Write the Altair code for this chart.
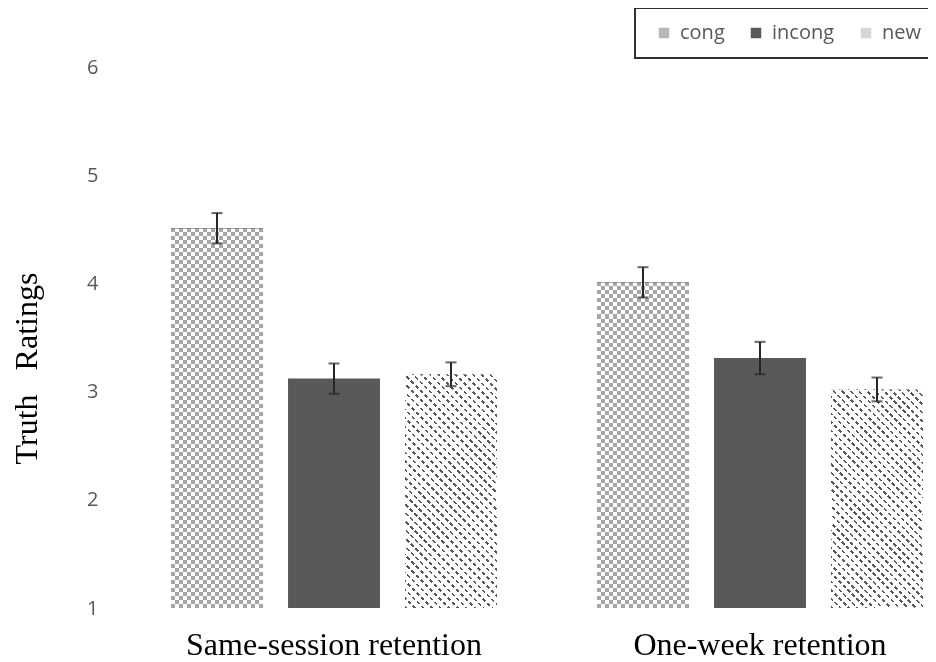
import altair as alt
import pandas as pd

# ---- data ----
retention = ["Same-session retention", "One-week retention"]
conditions = ["cong", "incong", "new"]
mean_same = [4.51, 3.12, 3.16]
mean_week = [4.01, 3.31, 3.02]
err_same = [0.14, 0.14, 0.11]
err_week = [0.14, 0.15, 0.11]
y_ticks = [1, 2, 3, 4, 5, 6]

rows = []
for r, means, errs in zip(retention, [mean_same, mean_week], [err_same, err_week]):
    for c, m, e in zip(conditions, means, errs):
        rows.append({"retention": r, "cond": c, "mean": m,
                     "lo": round(m - e, 3), "hi": round(m + e, 3)})
df = pd.DataFrame(rows)

# ---- layout (pixels) ----
PLOT_W, PLOT_H = 807, 541
Y_MIN, Y_MAX = 1, 6
PX_PER_UNIT = PLOT_H / (Y_MAX - Y_MIN)
BAR_W = 92.0


def cell_gradient(colors, n_cells, x1, y1, x2, y2):
    """Hard-edged stripes: n_cells cells cycling through colors."""
    stops = []
    for i in range(n_cells):
        col = colors[i % len(colors)]
        stops.append({"offset": round(i / n_cells, 6), "color": col})
        stops.append({"offset": round((i + 1) / n_cells, 6), "color": col})
    return {"gradient": "linear", "x1": x1, "y1": y1, "x2": x2, "y2": y2,
            "stops": stops}


def duty_gradient(c_on, c_off, n, duty, x1, y1, x2, y2):
    stops = []
    for i in range(n):
        a, b, c = i / n, (i + duty) / n, (i + 1) / n
        stops += [{"offset": round(a, 6), "color": c_on},
                  {"offset": round(b, 6), "color": c_on},
                  {"offset": round(b, 6), "color": c_off},
                  {"offset": round(c, 6), "color": c_off}]
    return {"gradient": "linear", "x1": x1, "y1": y1, "x2": x2, "y2": y2,
            "stops": stops}


def diag(c_on, c_off, w, h, period, duty, down=True):
    """45-degree stripes inside a w x h box (bounding-box gradient units)."""
    s = (w + h) / (w * w + h * h)
    n = max(1, round((w + h) / period))
    if down:   # stripes running like "\"
        return duty_gradient(c_on, c_off, n, duty, 0, 1, s * w, 1 - s * h)
    return duty_gradient(c_on, c_off, n, duty, 0, 0, s * w, s * h)  # "/"


yscale = alt.Scale(domain=[Y_MIN, Y_MAX], nice=False, zero=False)
yaxis = alt.Axis(values=y_ticks, title="Truth\u00a0\u00a0\u00a0Ratings",
                 grid=False, domain=False, ticks=False, tickSize=0,
                 labelFont="Open Sans", labelFontSize=20,
                 labelColor="#595959", labelPadding=23,
                 titleFont="Liberation Serif", titleFontSize=32,
                 titleFontWeight="normal", titleColor="black",
                 titleAngle=270, titleX=-85, titleY=301,
                 titleBaseline="alphabetic", titleAlign="center")

x = alt.X("retention:N", sort=retention,
          scale=alt.Scale(paddingInner=0.2347, paddingOuter=0.0646, align=0.909),
          axis=alt.Axis(title=None, labelAngle=0, ticks=False, tickSize=0,
                        domain=False, labelFont="Liberation Serif",
                        labelFontSize=32, labelColor="black", labelLimit=1000,
                        labelBaseline="alphabetic", labelPadding=46))
xo = alt.XOffset("cond:N", sort=conditions,
                 scale=alt.Scale(paddingInner=0.2137, paddingOuter=0))
y = alt.Y("mean:Q", scale=yscale, axis=yaxis)

color = alt.Color("cond:N", sort=conditions,
                  scale=alt.Scale(domain=conditions,
                                  range=["#b8b8b8", "#595959", "#d6d6d6"]),
                  legend=alt.Legend(title=None, orient="none", legendX=514,
                                    legendY=-59, direction="horizontal",
                                    symbolType="square", symbolSize=110,
                                    symbolStrokeWidth=0, labelFont="Open Sans",
                                    labelFontSize=20, labelColor="#595959",
                                    padding=15, symbolOffset=4, labelOffset=6,
                                    columnPadding=17, strokeColor="#303030"))

base = alt.Chart(df).encode(x=x, xOffset=xo)

layers = [base.mark_bar().encode(y=y, y2=alt.datum(1), color=color)]

# textured overlays, one set per bar so the texture scale stays constant
for r, means in zip(retention, [mean_same, mean_week]):
    for c, m in zip(conditions, means):
        h = (m - Y_MIN) * PX_PER_UNIT
        sel = base.transform_filter(
            f"datum.retention == '{r}' && datum.cond == '{c}'")
        if c == "cong":
            hs = cell_gradient(["#000000", "#ffffff"], max(1, round(h / 4)), 0, 0, 0, 1)
            vs = cell_gradient(["#000000", "#ffffff"], round(BAR_W / 4), 0, 0, 1, 0)
            layers.append(sel.mark_bar(fill=hs).encode(y=y, y2=alt.datum(1)))
            layers.append(sel.mark_bar(fill=vs, blend="difference").encode(y=y, y2=alt.datum(1)))
            layers.append(sel.mark_bar(fill="#a6a6a6", blend="lighten").encode(y=y, y2=alt.datum(1)))
        elif c == "new":
            d1 = diag("#595959", "#ffffff", BAR_W, h, 8.5, 0.3, down=True)
            d2 = diag("#ffffff", "#000000", BAR_W, h, 9.0, 0.4, down=False)
            layers.append(sel.mark_bar(fill=d1).encode(y=y, y2=alt.datum(1)))
            layers.append(sel.mark_bar(fill=d2, blend="lighten").encode(y=y, y2=alt.datum(1)))

rule = base.mark_rule(color="#262626", strokeWidth=2).encode(
    y=alt.Y("lo:Q", scale=yscale, axis=yaxis), y2="hi:Q")
caps = base.transform_fold(["lo", "hi"], as_=["k", "v"]).mark_tick(
    color="#262626", size=11, thickness=2).encode(
    y=alt.Y("v:Q", scale=yscale, axis=yaxis))
layers += [rule, caps]

chart = alt.layer(*layers).properties(
    width=PLOT_W, height=PLOT_H,
    autosize=alt.AutoSizeParams(type="none"),
    padding={"left": 113, "top": 59, "right": 0, "bottom": 54},
).configure_view(stroke=None).configure_legend(strokeWidth=2)

chart.save("out.html", embed_options={"renderer": "svg", "actions": False})
